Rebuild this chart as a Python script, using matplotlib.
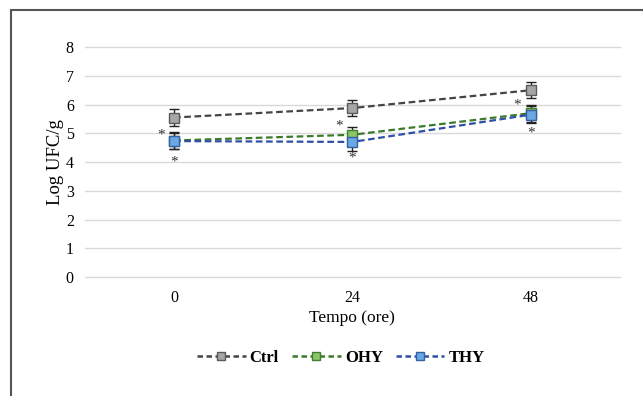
import matplotlib.pyplot as plt
import matplotlib.patches as patches
from matplotlib.lines import Line2D
import numpy as np

# data
times = ["0", "24", "48"]
ctrl = [5.55, 5.88, 6.5]
ctrl_err = [0.28, 0.27, 0.28]
ohy = [4.75, 4.95, 5.7]
ohy_err = [0.3, 0.28, 0.3]
thy = [4.73, 4.7, 5.65]
thy_err = [0.28, 0.3, 0.3]

# significance asterisks (x index, offset, y)
stars_x = [0, 0, 1, 1, 2, 2]
stars_dx = [-0.075, 0, -0.075, 0, -0.075, 0]
stars_y = [4.95, 4.0, 5.25, 4.13, 5.97, 5.0]

plt.rcParams['font.family'] = ['Liberation Serif', 'DejaVu Serif']

fig = plt.figure(figsize=(6.43, 3.96), dpi=100)
ax = fig.add_axes([0.132, 0.3005, 0.832, 0.5805])

x = np.arange(len(times)) + 0.5
series = [
    ("Ctrl", ctrl, ctrl_err, "#454545", "#a6a6a6", "#5a5a5a"),
    ("OHY", ohy, ohy_err, "#3b7a2a", "#8cc468", "#3f7f2e"),
    ("THY", thy, thy_err, "#2f4fa6", "#69a8e0", "#3560a8"),
]
handles = []
for name, vals, err, lc, fc, ec in series:
    ax.errorbar(x, vals, yerr=err, color=lc, ls=(0, (3, 1.6)), lw=1.6,
                marker="s", ms=7, mfc=fc, mec=ec, mew=1.0,
                ecolor="#222222", elinewidth=1.0, capsize=3.5, capthick=1.0,
                zorder=3)
    handles.append(Line2D([], [], color=lc, ls=(0, (2.2, 1.4)), lw=1.8,
                          marker="s", ms=6, mfc=fc, mec=ec, mew=1.0, label=name))

for i, dx, yy in zip(stars_x, stars_dx, stars_y):
    ax.text(x[i] + dx, yy, "*", ha="center", va="center", fontsize=11,
            color="#333333", zorder=4)

ax.set_xlim(0, 3)
ax.set_ylim(0, 8)
ax.set_xticks(x)
ax.set_xticklabels(times)
ax.set_yticks(range(0, 9))
ax.tick_params(length=0, labelsize=11.5)
ax.tick_params(axis="y", pad=8)
ax.tick_params(axis="x", pad=9)
ax.grid(axis="y", color="#d9d9d9", lw=1.0)
for gl in ax.get_ygridlines():
    gl.set_clip_on(False)
ax.set_axisbelow(True)
for s in ax.spines.values():
    s.set_visible(False)

ax.set_ylabel("Log UFC/g", fontsize=13.5, labelpad=1)
ax.set_xlabel("Tempo (ore)", fontsize=12.5, labelpad=3)

fig.legend(handles=handles, loc="center", bbox_to_anchor=(341 / 643, 0.096), ncol=3,
           frameon=False, prop={"weight": "bold", "size": 12},
           handlelength=2.9, columnspacing=0.8, handletextpad=0.25)

# outer frame of the figure
fig.patches.append(patches.Rectangle((11 / 643, -0.05), 1.2, 0.05 + (396 - 10) / 396,
                                     transform=fig.transFigure, fill=False,
                                     ec="#555555", lw=1.5))

fig.savefig("out.png", dpi=100)
